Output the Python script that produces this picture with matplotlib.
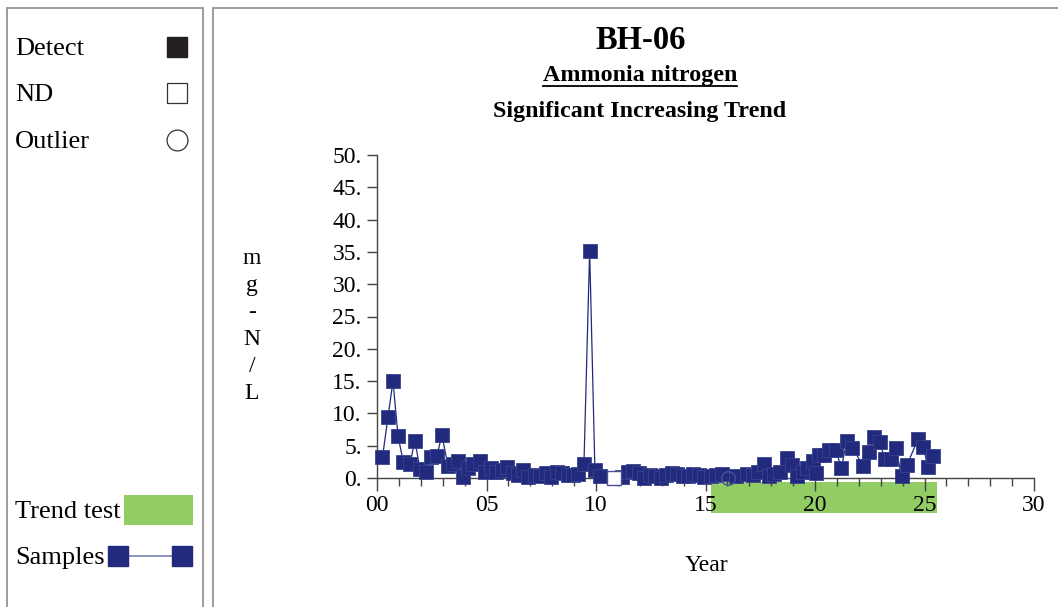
import matplotlib
matplotlib.use("Agg")
import matplotlib.pyplot as plt
from matplotlib.patches import Rectangle
from matplotlib.lines import Line2D
from matplotlib.ticker import FixedLocator, MultipleLocator, FuncFormatter
import matplotlib.transforms as mtransforms

plt.rcParams['font.family'] = ['Liberation Serif', 'DejaVu Serif']

# ---- data ----
detect_years = [0.25, 0.5, 0.73, 0.96, 1.2, 1.5, 1.73, 1.96, 2.23, 2.45, 2.74, 2.96,
                3.24, 3.45, 3.7, 3.92, 4.15, 4.4, 4.7, 4.95, 5.2, 5.45, 5.7, 5.95,
                6.2, 6.45, 6.65, 6.9, 7.2, 7.45, 7.7, 7.95, 8.2, 8.45, 8.7, 8.95,
                9.2, 9.45, 9.71, 9.95, 10.2, 11.2, 11.45, 11.7, 11.95, 12.2, 12.45,
                12.7, 12.95, 13.2, 13.45, 13.7, 13.95, 14.2, 14.45, 14.7, 14.95,
                15.25, 15.5, 15.75, 16.4, 16.9, 17.15, 17.4, 17.65, 17.9, 18.15,
                18.4, 18.7, 18.95, 19.2, 19.45, 19.65, 19.9, 20.05, 20.2, 20.4,
                20.65, 20.95, 21.2, 21.45, 21.7, 22.2, 22.45, 22.7, 22.95, 23.2,
                23.45, 23.7, 23.95, 24.2, 24.7, 24.95, 25.15, 25.4]
detect_values = [3.2, 9.4, 15.0, 6.5, 2.5, 2.1, 5.8, 1.4, 1.0, 3.2, 3.4, 6.7,
                 1.9, 2.2, 2.7, 0.1, 1.5, 2.1, 2.7, 1.0, 1.5, 1.0, 1.2, 1.7,
                 0.8, 0.5, 1.2, 0.2, 0.5, 0.3, 0.8, 0.1, 0.9, 0.7, 0.4, 0.5,
                 0.6, 2.2, 35.2, 1.3, 0.3, 0.1, 1.0, 1.1, 0.8, 0.0, 0.4,
                 0.3, 0.0, 0.5, 0.8, 0.6, 0.3, 0.3, 0.6, 0.5, 0.1,
                 0.3, 0.4, 0.6, 0.3, 0.6, 0.4, 0.9, 2.2, 0.3, 0.6,
                 1.0, 3.1, 2.0, 0.3, 1.0, 1.6, 2.6, 0.7, 3.6, 3.6,
                 4.3, 4.4, 1.5, 5.7, 4.7, 1.9, 4.0, 6.3, 5.5, 2.9,
                 2.9, 4.6, 0.3, 2.0, 6.0, 4.8, 1.7, 3.4]
nd_years = [10.8]
nd_values = [0.0]
outlier_years = [16.05]
outlier_values = [0.0]
trend_start, trend_end = 15.23, 25.55

x_tick_labels = ["00", "05", "10", "15", "20", "25", "30"]
y_tick_values = [0, 5, 10, 15, 20, 25, 30, 35, 40, 45, 50]

# ---- figure ----
W, H = 1058, 607
fig = plt.figure(figsize=(W / 100, H / 100), dpi=100)

def fx(px):
    return px / W

def fy(py):
    return 1 - py / H

navy = '#212A7C'
green = '#92CC64'
border = '#8C8C8C'

# panel boxes
fig.patches.append(Rectangle((fx(7), fy(615)), fx(196), fy(8) - fy(615),
                             transform=fig.transFigure, fill=False, ec=border, lw=1.2))
fig.patches.append(Rectangle((fx(213), fy(615)), fx(850), fy(8) - fy(615),
                             transform=fig.transFigure, fill=False, ec=border, lw=1.2))

# axes
ax = fig.add_axes([fx(377), fy(478), fx(1034) - fx(377), fy(155) - fy(478)])
ax.set_xlim(0, 30)
ax.set_ylim(0, 50)
for s in ['top', 'right']:
    ax.spines[s].set_visible(False)
for s in ['left', 'bottom']:
    ax.spines[s].set_color('#444444')
    ax.spines[s].set_linewidth(1.0)

ax.xaxis.set_major_locator(FixedLocator([0, 5, 10, 15, 20, 25, 30]))
ax.xaxis.set_major_formatter(FuncFormatter(lambda v, p: x_tick_labels[int(round(v / 5))] if 0 <= round(v / 5) < len(x_tick_labels) else ""))
ax.xaxis.set_minor_locator(MultipleLocator(1))
ax.yaxis.set_major_locator(FixedLocator(y_tick_values))
ax.yaxis.set_major_formatter(FuncFormatter(lambda v, p: f"{int(round(v))}."))
ax.tick_params(axis='x', which='major', direction='out', length=9, width=1.0,
               color='#444444', labelsize=17, pad=3)
ax.tick_params(axis='x', which='minor', direction='out', length=6, width=1.0, color='#444444')
ax.tick_params(axis='y', which='major', direction='out', length=7, width=1.0,
               color='#444444', labelsize=17, pad=4)

# trend test bar below axis
trans = mtransforms.blended_transform_factory(ax.transData, ax.transAxes)
y0 = (478 - 513) / 323
y1 = (478 - 482) / 323
ax.add_patch(Rectangle((trend_start, y0), trend_end - trend_start, y1 - y0,
                       transform=trans, color=green, clip_on=False, zorder=1, lw=0))

# line through all samples in time order
all_pts = sorted(list(zip(detect_years, detect_values)) + list(zip(nd_years, nd_values))
                 + list(zip(outlier_years, outlier_values)))
ax.plot([p[0] for p in all_pts], [p[1] for p in all_pts], color=navy, lw=0.9,
        clip_on=False, zorder=3)
ax.plot(detect_years, detect_values, ls='none', marker='s', ms=9.8, mfc=navy,
        mec='#3A438E', mew=0.6, clip_on=False, zorder=4)
ax.plot(nd_years, nd_values, ls='none', marker='s', ms=9.8, mfc='white',
        mec='#4A5296', mew=1.0, clip_on=False, zorder=4)
ax.plot(outlier_years, outlier_values, ls='none', marker='o', ms=9.8, mfc='none',
        mec='#4A5296', mew=1.0, clip_on=False, zorder=4)

# titles
fig.text(fx(641), fy(49), "BH-06", ha='center', va='baseline', fontsize=23.5, fontweight='bold')
fig.text(fx(640), fy(81), "Ammonia nitrogen", ha='center', va='baseline',
         fontsize=17.3, fontweight='bold')
fig.text(fx(640), fy(117), "Significant Increasing Trend", ha='center', va='baseline',
         fontsize=17.3, fontweight='bold')
# underline
fig.add_artist(Line2D([fx(543), fx(737)], [fy(85.5), fy(85.5)], color='black', lw=1.3,
                      transform=fig.transFigure))

# axis labels
fig.text(fx(706), fy(571), "Year", ha='center', va='baseline', fontsize=17)
fig.text(fx(252), fy(326), "m\ng\n-\nN\n/\nL", ha='center', va='center', fontsize=17,
         linespacing=1.38)

# legend panel
fig.text(fx(15), fy(55), "Detect", ha='left', va='baseline', fontsize=19)
fig.text(fx(15), fy(101), "ND", ha='left', va='baseline', fontsize=19)
fig.text(fx(15), fy(148), "Outlier", ha='left', va='baseline', fontsize=19)
fig.text(fx(15), fy(518), "Trend test", ha='left', va='baseline', fontsize=19)
fig.text(fx(15), fy(564), "Samples", ha='left', va='baseline', fontsize=19)

fig.add_artist(Line2D([fx(177)], [fy(47)], marker='s', ms=14.5, mfc='#231F20',
                      mec='#231F20', ls='none', transform=fig.transFigure))
fig.add_artist(Line2D([fx(177)], [fy(93)], marker='s', ms=14.5, mfc='white',
                      mec='#333333', mew=0.9, ls='none', transform=fig.transFigure))
fig.add_artist(Line2D([fx(177)], [fy(140)], marker='o', ms=15, mfc='white',
                      mec='#333333', mew=0.9, ls='none', transform=fig.transFigure))
fig.patches.append(Rectangle((fx(124), fy(525)), fx(69), fy(495) - fy(525),
                             transform=fig.transFigure, color=green, lw=0))
fig.add_artist(Line2D([fx(118), fx(182)], [fy(556), fy(556)], color='#7A80B0', lw=1.2,
                      transform=fig.transFigure))
fig.add_artist(Line2D([fx(118), fx(182)], [fy(556), fy(556)], marker='s', ms=15,
                      mfc=navy, mec=navy, ls='none', transform=fig.transFigure))

fig.savefig("out.png", dpi=100)
